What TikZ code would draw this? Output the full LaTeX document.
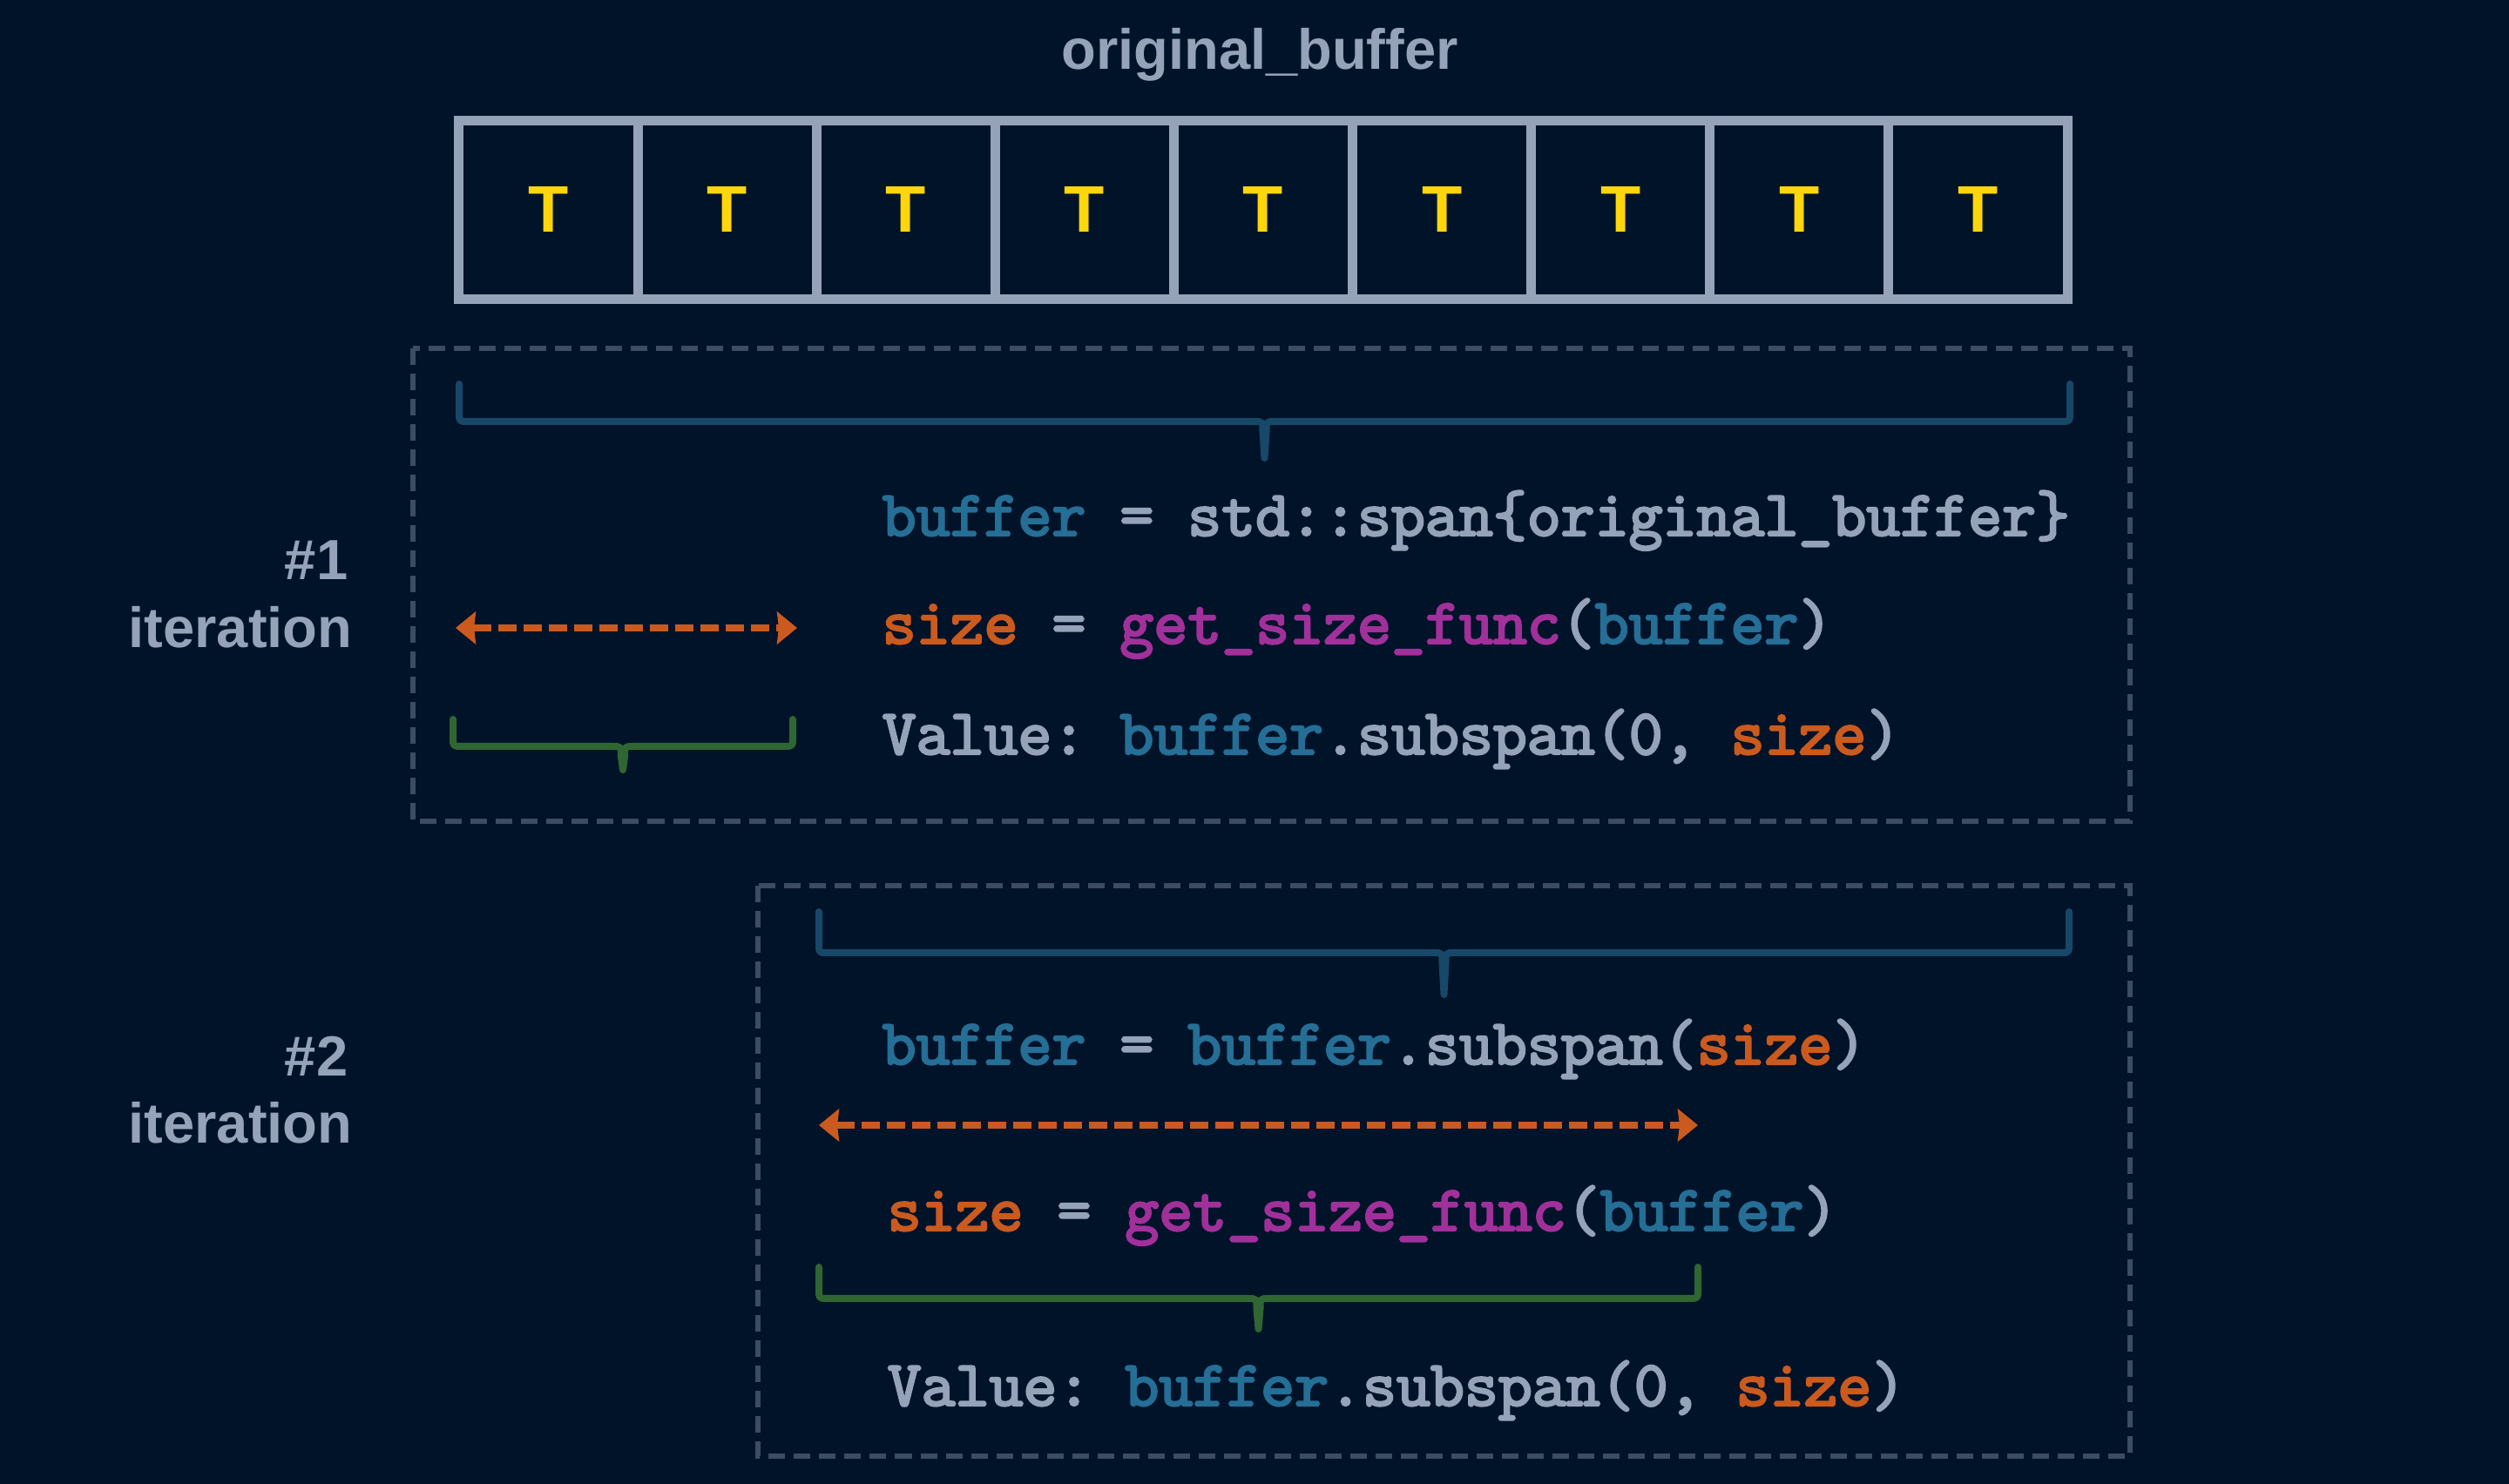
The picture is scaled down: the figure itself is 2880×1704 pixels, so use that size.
\documentclass[tikz,border=0pt]{standalone}
\usepackage{fontspec}
\setmainfont{Liberation Sans}
\newfontfamily\codefont{lmmono10-regular.otf}[FakeBold=3.2]
\usetikzlibrary{arrows.meta}
\definecolor{bg}{HTML}{011329}
\definecolor{slate}{HTML}{94A3B8}
\definecolor{tyellow}{HTML}{FFD60A}
\definecolor{codeblue}{HTML}{256E96}
\definecolor{codemag}{HTML}{A1309B}
\definecolor{codeorange}{HTML}{CB5A1E}
\definecolor{braceblue}{HTML}{174868}
\definecolor{bracegreen}{HTML}{2F6632}
\definecolor{dashcol}{HTML}{3C4C63}
\newcommand\kwb[1]{\textcolor{codeblue}{#1}}
\newcommand\kwo[1]{\textcolor{codeorange}{#1}}
\newcommand\kwm[1]{\textcolor{codemag}{#1}}
\newcommand\drawbrace[6]{%
  \pgfmathsetmacro\bxm{(#2+#3)/2}%
  \draw[bracestyle,#1] (#2,#4) -- (#2,#5-10) .. controls (#2,#5) .. (#2+10,#5)
    -- (\bxm-12,#5) .. controls (\bxm-2,#5) .. (\bxm-2,#5+12) -- (\bxm,#6)
    -- (\bxm+2,#5+12) .. controls (\bxm+2,#5) .. (\bxm+12,#5)
    -- (#3-10,#5) .. controls (#3,#5) .. (#3,#5-10) -- (#3,#4);}
\begin{document}
\begin{tikzpicture}[x=0.01cm,y=-0.01cm,
  titlestyle/.style={anchor=base,inner sep=0,text=slate,font=\bfseries\fontsize{18.5}{22}\selectfont},
  lab/.style={anchor=base east,inner sep=0,text=slate,font=\bfseries\fontsize{18.5}{22}\selectfont},
  cell/.style={draw=slate,line width=0.11cm,minimum width=2.051cm,minimum height=2.05cm,inner sep=0,
    text=tyellow,font=\bfseries\fontsize{21.5}{21.5}\selectfont},
  dbox/.style={draw=dashcol,line width=0.052cm,dash pattern=on 0.19cm off 0.10cm},
  bracestyle/.style={line width=0.08cm,line cap=round,line join=round},
  sizearrow/.style={draw=codeorange,line width=0.075cm,dash pattern=on 0.21cm off 0.08cm,
    <->,>={Stealth[length=0.23cm,width=0.37cm,inset=0.02cm]}},
  code/.style={anchor=base west,inner sep=0,text=slate,font=\codefont\frenchspacing\fontsize{21.1}{25}\selectfont}
]
\fill[bg] (0,0) rectangle (2880,1704);
\useasboundingbox (0,0) rectangle (2880,1704);

\node[titlestyle] (title) at (1446,80) {original\_buffer};

\foreach \i in {0,...,8}{
  \node[cell] (c\i) at ({629.6+205.1*\i},241) {T};
}

\draw[dbox] (474,400) rectangle (2445,943);
\draw[dbox] (870,1017) rectangle (2445,1672);

\drawbrace{draw=braceblue}{527}{2376}{441}{484}{526}
\drawbrace{draw=bracegreen}{520}{910}{826}{857}{884}
\drawbrace{draw=braceblue}{940}{2375}{1047}{1094}{1142}
\drawbrace{draw=bracegreen}{940}{1949}{1455}{1491}{1526}

\coordinate (a1l) at (523,721);
\coordinate (a1r) at (915,721);
\draw[sizearrow] (a1l) -- (a1r);
\coordinate (a2l) at (940,1292);
\coordinate (a2r) at (1949,1292);
\draw[sizearrow] (a2l) -- (a2r);

\node[lab] (it1n) at (400,666) {\#1};
\node[lab] (it1t) at (405,744) {iteration};
\node[lab] (it2n) at (400,1236) {\#2};
\node[lab] (it2t) at (405,1313) {iteration};

\node[code] (l11) at (1012,615) {\kwb{buffer} = std::span\{original\_buffer\}};
\node[code] (l12) at (1012,739) {\kwo{size} = \kwm{get\_size\_func}(\kwb{buffer})};
\node[code] (l13) at (1012,866) {Value: \kwb{buffer}.subspan(0, \kwo{size})};
\node[code] (l21) at (1012,1222) {\kwb{buffer} = \kwb{buffer}.subspan(\kwo{size})};
\node[code] (l22) at (1018,1413) {\kwo{size} = \kwm{get\_size\_func}(\kwb{buffer})};
\node[code] (l23) at (1018,1614) {Value: \kwb{buffer}.subspan(0, \kwo{size})};
\end{tikzpicture}
\end{document}
